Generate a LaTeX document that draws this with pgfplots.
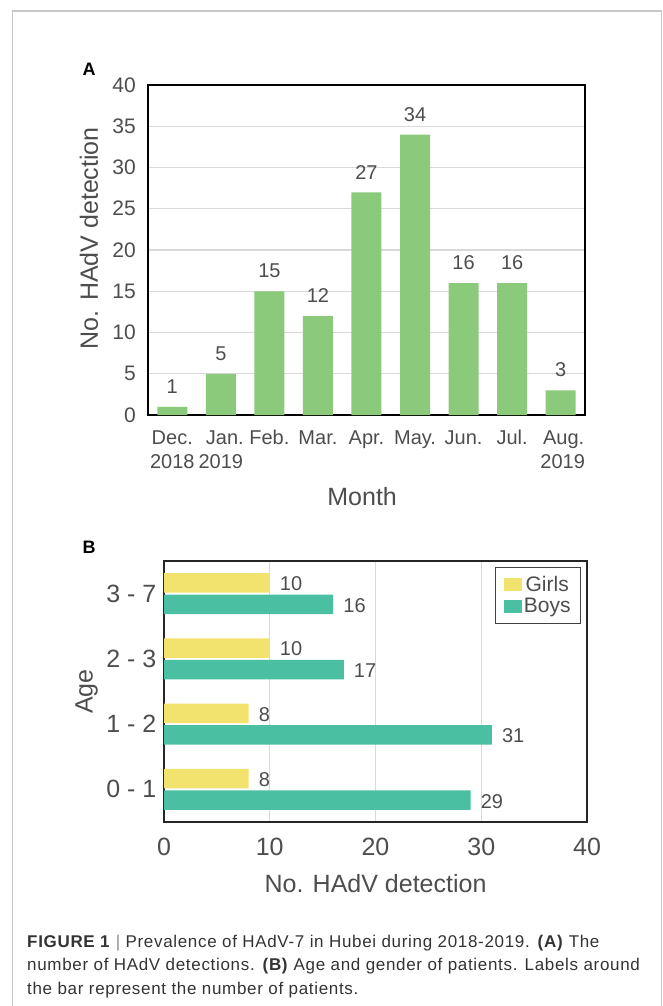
\documentclass[border=0pt]{standalone}
\usepackage{fontspec}
\setmainfont{Liberation Sans}
\newfontfamily\capfont[LetterSpace=4]{Liberation Sans}
\usepackage{pgfplots}
\pgfplotsset{compat=1.18}
\definecolor{barA}{HTML}{8BC97B}
\definecolor{girls}{HTML}{F2E36F}
\definecolor{boys}{HTML}{4BBFA1}
\definecolor{txt}{HTML}{4D4D4D}
\definecolor{gridc}{HTML}{D9D9D9}
\definecolor{framec}{HTML}{C8C8C8}
\newcommand{\fs}[1]{\fontsize{#1bp}{1.2\dimexpr#1bp\relax}\selectfont}
\begin{document}
\begin{tikzpicture}
\useasboundingbox (0bp,0bp) rectangle (663bp,-1006bp);
\draw[framec, line width=1.3bp] (12.7bp,-1020bp) -- (12.7bp,-11bp) -- (661.5bp,-11bp) -- (661.5bp,-1020bp);
\node[font=\bfseries\fs{18}, anchor=center, inner sep=0pt] at (89bp,-69bp) {A};
\node[font=\bfseries\fs{18}, anchor=center, inner sep=0pt] at (89bp,-547bp) {B};
\begin{axis}[
 at={(148bp,-415bp)}, anchor=south west,
 scale only axis, width=437bp, height=330bp,
 xmin=-0.5, xmax=8.5, ymin=0, ymax=40,
 ybar, bar width=30bp,
 xtick={0,...,8},
 xticklabels={{\strut Dec.\\2018},{\strut\hspace*{8bp}Jan.\\2019},\strut Feb.,\strut Mar.,\strut Apr.,\strut May.,\strut Jun.,\strut Jul.,{\strut\hspace*{6bp}Aug.\\\hspace*{4bp}2019}},
 xticklabel style={align=center, anchor=north, inner sep=0pt, yshift=-12.5bp, font=\fontsize{20bp}{24bp}\selectfont, text=txt},
 ytick={0,5,...,40},
 yticklabel style={inner sep=0pt, xshift=-12bp, font=\fs{21}, text=txt},
 /pgf/number format/assume math mode=true,
 major tick length=0pt,
 ymajorgrids, grid style={gridc, line width=1.2bp},
 axis line style={black, line width=1.3bp},
 xlabel={Month}, ylabel={No. HAdV detection},
 xlabel style={at={(axis description cs:0.49,-0.248)}, anchor=center, font=\fs{25}, text=txt},
 ylabel style={at={(axis description cs:-0.135,0.536)}, anchor=center, font=\fs{25}, text=txt},
 nodes near coords,
 nodes near coords style={anchor=south, inner sep=0pt, yshift=13bp, font=\fs{20}, text=txt},
]
\addplot[fill=barA, draw=none] coordinates {(0,1)(1,5)(2,15)(3,12)(4,27)(5,34)(6,16)(7,16)(8,3)};
\end{axis}
\begin{axis}[
 at={(164bp,-822bp)}, anchor=south west,
 scale only axis, width=423bp, height=261bp,
 xmin=0, xmax=40, ymin=-0.5, ymax=3.5,
 xbar, bar width=19.5bp,
 ytick={0,1,2,3}, yticklabels={0 - 1,1 - 2,2 - 3,3 - 7},
 xtick={0,10,...,40},
 xticklabel style={anchor=north, inner sep=0pt, yshift=-16bp, font=\fs{25}, text=txt},
 yticklabel style={anchor=east, inner sep=0pt, xshift=-7.5bp, font=\fs{25}, text=txt},
 /pgf/number format/assume math mode=true,
 major tick length=0pt,
 xmajorgrids, grid style={gridc, line width=1.2bp},
 axis line style={black!85, line width=1.3bp},
 xlabel={No. HAdV detection}, ylabel={Age},
 xlabel style={at={(axis description cs:0.5,-0.234)}, anchor=center, font=\fs{25}, text=txt},
 ylabel style={at={(axis description cs:-0.183,0.5)}, anchor=center, font=\fs{25}, text=txt},
 nodes near coords,
 nodes near coords style={anchor=west, inner sep=0pt, xshift=10bp, yshift=-1bp, font=\fs{20}, text=txt},
 legend style={at={(axis description cs:0.986,0.977)}, anchor=north east, draw=black!75, line width=1bp,
   font=\fs{21}, text=txt, inner xsep=8bp, inner ysep=7bp, row sep=1bp, nodes={inner sep=2bp}},
 legend image code/.code={\fill[#1] (0bp,-6.5bp) rectangle (18bp,6.5bp);},
]
\addplot[fill=girls, draw=none, bar shift=10.8bp] coordinates {(8,0)(8,1)(10,2)(10,3)};
\addplot[fill=boys, draw=none, bar shift=-10.8bp] coordinates {(29,0)(31,1)(17,2)(16,3)};
\legend{Girls,Boys}
\end{axis}
\node[anchor=base west, inner sep=0pt, font=\capfont\fs{17}, text=black!80] at (27bp,-947bp) {\textbf{FIGURE 1} {\color{black!45}|} Prevalence of HAdV-7 in Hubei during 2018-2019. \textbf{(A)} The};
\node[anchor=base west, inner sep=0pt, font=\capfont\fs{17}, text=black!80] at (27bp,-970.5bp) {number of HAdV detections. \textbf{(B)} Age and gender of patients. Labels around};
\node[anchor=base west, inner sep=0pt, font=\capfont\fs{17}, text=black!80] at (27bp,-994bp) {the bar represent the number of patients.};
\end{tikzpicture}
\end{document}
